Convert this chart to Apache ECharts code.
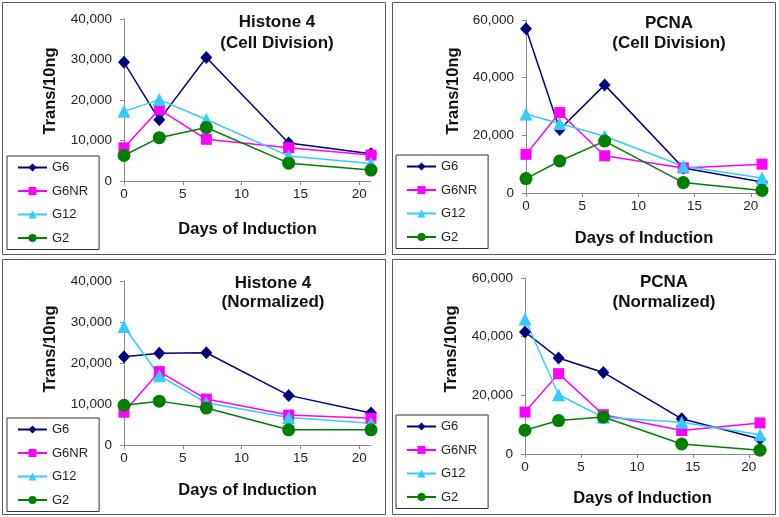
<!DOCTYPE html>
<html>
<head>
<meta charset="utf-8">
<script src="https://cdn.jsdelivr.net/npm/echarts@6/dist/echarts.min.js"></script>
<style>
html,body{margin:0;padding:0;background:#fff;}
#c{width:779px;height:517px;}
</style>
</head>
<body>
<div id="c"></div>
<script>
// ---- data ----
const days = [0, 3, 7, 14, 21];
const seriesNames = ['G6', 'G6NR', 'G12', 'G2'];
const xTicks = [0, 5, 10, 15, 20];

const h4Cell_G6   = [29300, 15100, 30500, 9400, 6700];
const h4Cell_G6NR = [8200, 17700, 10300, 8200, 6400];
const h4Cell_G12  = [17200, 20100, 15200, 6200, 4300];
const h4Cell_G2   = [6300, 10700, 13200, 4400, 2700];

const pcnaCell_G6   = [57000, 22000, 37500, 8700, 3800];
const pcnaCell_G6NR = [13400, 27900, 12900, 8700, 10000];
const pcnaCell_G12  = [27400, 24100, 19700, 9300, 5200];
const pcnaCell_G2   = [5000, 11100, 18000, 3600, 900];

const h4Norm_G6   = [21500, 22400, 22500, 12100, 7800];
const h4Norm_G6NR = [8000, 17900, 11200, 7300, 6500];
const h4Norm_G12  = [28900, 16900, 10300, 6700, 5300];
const h4Norm_G2   = [9700, 10700, 9000, 3700, 3700];

const pcnaNorm_G6   = [41600, 32700, 27800, 12000, 5100];
const pcnaNorm_G6NR = [14300, 27400, 13400, 8000, 10600];
const pcnaNorm_G12  = [46000, 20200, 12500, 10800, 6600];
const pcnaNorm_G2   = [8100, 11400, 12600, 3400, 1300];

const panelTitles = [
  ['Histone 4', '(Cell Division)'],
  ['PCNA', '(Cell Division)'],
  ['Histone 4', '(Normalized)'],
  ['PCNA', '(Normalized)']
];
const yMax = [40000, 60000, 40000, 60000];
const yInterval = [10000, 20000, 10000, 20000];
const xAxisTitle = 'Days of Induction';
const yAxisTitle = 'Trans/10ng';

const panelData = [
  [h4Cell_G6, h4Cell_G6NR, h4Cell_G12, h4Cell_G2],
  [pcnaCell_G6, pcnaCell_G6NR, pcnaCell_G12, pcnaCell_G2],
  [h4Norm_G6, h4Norm_G6NR, h4Norm_G12, h4Norm_G2],
  [pcnaNorm_G6, pcnaNorm_G6NR, pcnaNorm_G12, pcnaNorm_G2]
];

// ---- styling / layout ----
const FONT = 'Liberation Sans, Arial, sans-serif';
const colors = ['#000080', '#FF00FF', '#33CCFF', '#008000'];
const symbols = ['diamond', 'rect', 'triangle', 'circle'];
const symbolSizes = [[12, 13], 11, 13, 13];

const grids = [
  {left: 124, top: 19, width: 247, height: 162},
  {left: 526, top: 20, width: 236, height: 173},
  {left: 124, top: 281, width: 247, height: 164},
  {left: 525, top: 278, width: 235, height: 176}
];
const nameGaps = [40, 37, 37, 36];
const titlePos = [[277, 22, 43], [669, 23, 43], [273, 283, 302], [664, 282, 302]];
const yNamePos = [[50, 91], [453, 91], [50, 349], [451, 349]];
const legendPos = [[7, 156], [396, 155], [7, 418], [396, 415]];
const borders = [[2.5, 2.5, 383, 252], [392.5, 2.5, 383, 252], [2.5, 259.5, 383, 255], [392.5, 259.5, 383, 255]];

const xAxes = [], yAxes = [], series = [], legends = [], graphics = [];
for (let p = 0; p < 4; p++) {
  xAxes.push({
    gridIndex: p, type: 'value', min: 0, max: 21, interval: 5,
    name: xAxisTitle, nameLocation: 'middle', nameGap: nameGaps[p],
    nameTextStyle: {fontFamily: FONT, fontWeight: 'bold', fontSize: 16.5, color: '#111'},
    axisLine: {show: true, onZero: true, lineStyle: {color: '#8a8a8a', width: 1}},
    axisTick: {show: true, length: 4, customValues: xTicks, lineStyle: {color: '#8a8a8a'}},
    axisLabel: {customValues: xTicks, fontFamily: FONT, fontSize: 13.5, color: '#222', margin: 6},
    splitLine: {show: false}
  });
  yAxes.push({
    gridIndex: p, type: 'value', min: 0, max: yMax[p], interval: yInterval[p],
    axisLine: {show: true, lineStyle: {color: '#8a8a8a', width: 1}},
    axisTick: {show: true, length: 4, lineStyle: {color: '#8a8a8a'}},
    axisLabel: {fontFamily: FONT, fontSize: 13.5, color: '#222', margin: 12,
      formatter: v => v.toLocaleString('en-US')},
    splitLine: {show: false}
  });
  for (let s = 0; s < 4; s++) {
    series.push({
      type: 'line', name: seriesNames[s], xAxisIndex: p, yAxisIndex: p,
      data: days.map((d, i) => [d, panelData[p][s][i]]),
      symbol: symbols[s], symbolSize: symbolSizes[s],
      lineStyle: {color: colors[s], width: 1.5},
      itemStyle: {color: colors[s]},
      emphasis: {disabled: true}, animation: false
    });
  }
  legends.push({
    orient: 'vertical', left: legendPos[p][0], top: legendPos[p][1],
    width: 100, height: 110,
    data: seriesNames, itemWidth: 29, itemHeight: 10, itemGap: 10.5,
    padding: [5, 11, 5, 10],
    borderColor: '#333', borderWidth: 1, backgroundColor: '#fff',
    textStyle: {fontFamily: FONT, fontSize: 13, color: '#222'},
    selectedMode: false
  });
  graphics.push({
    type: 'rect', silent: true, z: -1,
    shape: {x: borders[p][0], y: borders[p][1], width: borders[p][2], height: borders[p][3]},
    style: {fill: 'none', stroke: '#5a5a5a', lineWidth: 1}
  });
  graphics.push({
    type: 'text', silent: true,
    x: titlePos[p][0], y: titlePos[p][1],
    style: {text: panelTitles[p][0], align: 'center', verticalAlign: 'middle',
      font: 'bold 17px ' + FONT, fill: '#111'}
  });
  graphics.push({
    type: 'text', silent: true,
    x: titlePos[p][0], y: titlePos[p][2],
    style: {text: panelTitles[p][1], align: 'center', verticalAlign: 'middle',
      font: 'bold 17px ' + FONT, fill: '#111'}
  });
  graphics.push({
    type: 'text', silent: true,
    x: yNamePos[p][0], y: yNamePos[p][1], rotation: Math.PI / 2,
    style: {text: yAxisTitle, align: 'center', verticalAlign: 'middle',
      font: 'bold 16.5px ' + FONT, fill: '#111'}
  });
}

const chart = echarts.init(document.getElementById('c'), null, {renderer: 'canvas'});
chart.setOption({
  backgroundColor: '#fff',
  animation: false,
  grid: grids,
  xAxis: xAxes,
  yAxis: yAxes,
  legend: legends,
  series: series,
  graphic: graphics
});
</script>
</body>
</html>
